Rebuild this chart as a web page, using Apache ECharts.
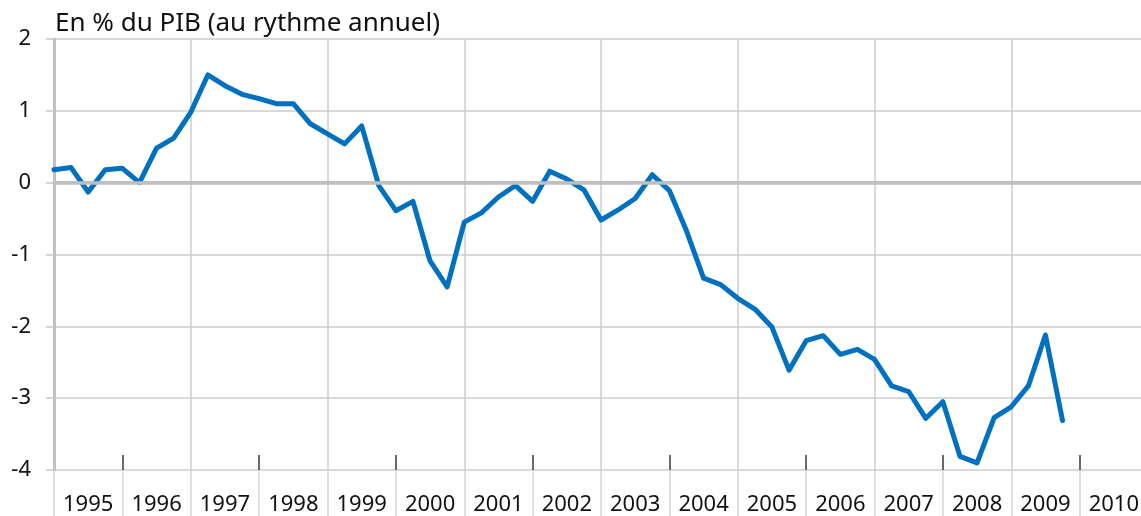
<!DOCTYPE html>
<html>
<head>
<meta charset="utf-8">
<script src="https://cdn.jsdelivr.net/npm/echarts@6/dist/echarts.min.js"></script>
<style>
    html, body { margin: 0; padding: 0; background: #ffffff; overflow: hidden; }
    #chart { width: 1148px; height: 516px; }
</style>
</head>
<body>
<div id="chart"></div>
<script>
// années (une bande par année, 4 trimestres chacune)
var years = ['1995', '1996', '1997', '1998', '1999', '2000', '2001', '2002',
             '2003', '2004', '2005', '2006', '2007', '2008', '2009', '2010'];
var yMin = -4;
var yMax = 2;
var quartersPerYear = 4;
// solde trimestriel, en % du PIB (1995T1 -> 2009T4)
var solde = [
    0.18, 0.21, -0.13, 0.18,
    0.20, 0.00, 0.48, 0.62,
    0.98, 1.50, 1.35, 1.23,
    1.17, 1.10, 1.10, 0.82,
    0.68, 0.54, 0.79, -0.04,
    -0.39, -0.26, -1.09, -1.45,
    -0.55, -0.42, -0.20, -0.04,
    -0.26, 0.16, 0.05, -0.10,
    -0.52, -0.38, -0.22, 0.11,
    -0.11, -0.67, -1.33, -1.42,
    -1.61, -1.76, -2.01, -2.61,
    -2.20, -2.13, -2.39, -2.32,
    -2.46, -2.83, -2.91, -3.28,
    -3.05, -3.81, -3.90, -3.27,
    -3.12, -2.83, -2.12, -3.31
];

var chartDom = document.getElementById('chart');
var myChart = echarts.init(chartDom);
var option;
var nbQuarters = years.length * quartersPerYear;
var font = 'Noto Sans';

option = {
    animation: false,
    textStyle: { fontFamily: font },
    title: {
        text: 'En % du PIB (au rythme annuel)',
        left: 50,
        top: 6,
        textStyle: { fontFamily: font, fontSize: 26, fontWeight: 'normal', color: '#111111' }
    },
    grid: { left: 54, right: 0, top: 39, bottom: 46 },
    xAxis: [
        {
            // axe des trimestres : la courbe + quadrillage tous les 2 ans
            type: 'value',
            min: 0,
            max: nbQuarters,
            interval: 8,
            position: 'bottom',
            axisLine: { show: true, lineStyle: { color: '#c0c0c0', width: 3 } },
            axisTick: { show: false },
            axisLabel: { show: false },
            splitLine: { show: true, lineStyle: { color: '#cccccc', width: 1.5 } }
        },
        {
            // petites graduations sombres (une année sur deux)
            type: 'category',
            data: years,
            position: 'bottom',
            boundaryGap: true,
            axisLine: { show: false },
            axisTick: {
                show: true, inside: true, length: 15,
                interval: function (index) { return index % 2 === 1; },
                lineStyle: { color: '#3a3a3a', width: 1.5 }
            },
            axisLabel: { show: false },
            splitLine: { show: false }
        },
        {
            // libellés des années + séparateurs
            type: 'category',
            data: years,
            position: 'bottom',
            boundaryGap: true,
            axisLine: { show: false },
            axisTick: { show: true, length: 46, interval: 0, lineStyle: { color: '#d6d6d6', width: 1.5 } },
            axisLabel: { interval: 0, fontSize: 22, color: '#111111', margin: 24, fontFamily: font },
            splitLine: { show: false }
        }
    ],
    yAxis: {
        type: 'value',
        min: yMin,
        max: yMax,
        interval: 1,
        axisLine: { show: true, lineStyle: { color: '#c0c0c0', width: 3 } },
        axisTick: { show: true, length: 8, lineStyle: { color: '#c8c8c8', width: 1.5 } },
        axisLabel: { fontSize: 22, color: '#111111', margin: 23, fontFamily: font },
        splitLine: { show: true, lineStyle: { color: '#cccccc', width: 1.5 } }
    },
    series: [
        {
            // ligne du zéro, plus épaisse
            type: 'line',
            xAxisIndex: 0,
            data: [],
            z: 1,
            markLine: {
                silent: true,
                symbol: 'none',
                label: { show: false },
                lineStyle: { color: '#bfbfbf', width: 3.5, type: 'solid' },
                data: [{ yAxis: 0 }]
            }
        },
        {
            type: 'line',
            xAxisIndex: 0,
            data: solde.map(function (v, i) { return [i, v]; }),
            showSymbol: false,
            z: 3,
            lineStyle: { color: '#0070c0', width: 5, cap: 'round', join: 'round' }
        }
    ]
};

option && myChart.setOption(option);
</script>
</body>
</html>
